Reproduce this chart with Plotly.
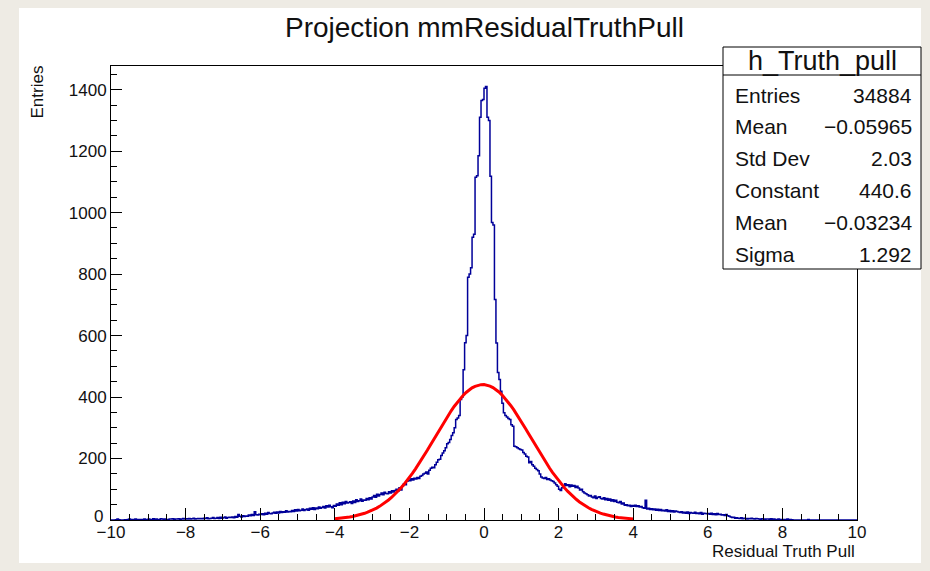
import math
import plotly.graph_objects as go

# ---------------- data ----------------
x_min, x_max, n_bins = -10.0, 10.0, 500

counts = [
    # -10.0 .. -6.0
    0, 0, 0, 1, 3, 1, 0, 0, 0, 1,
    1, 2, 3, 1, 2, 1, 3, 2, 1, 2,
    2, 1, 3, 2, 2, 3, 1, 2, 4, 2,
    3, 2, 2, 4, 3, 2, 3, 1, 2, 3,
    3, 4, 2, 3, 3, 4, 2, 3, 5, 3,
    4, 3, 5, 3, 4, 6, 3, 4, 5, 4,
    5, 4, 6, 5, 7, 4, 5, 6, 8, 5,
    6, 8, 5, 9, 6, 7, 10, 6, 8, 9,
    8, 10, 7, 11, 9, 18, 12, 10, 14, 11,
    13, 12, 16, 14, 18, 15, 27, 17, 16, 19,
    # -6.0 .. -2.0
    18, 20, 17, 22, 19, 24, 21, 20, 23, 25,
    22, 26, 23, 28, 24, 27, 25, 30, 26, 28,
    27, 31, 28, 33, 29, 34, 30, 32, 36, 31,
    33, 36, 32, 38, 35, 40, 34, 39, 37, 42,
    38, 41, 44, 39, 46, 42, 48, 43, 40, 47,
    45, 52, 48, 56, 50, 58, 53, 60, 55, 57,
    59, 54, 62, 57, 66, 60, 63, 68, 61, 65,
    64, 70, 66, 72, 68, 75, 80, 74, 84, 78,
    83, 88, 82, 90, 86, 85, 92, 88, 95, 91,
    96, 100, 94, 105, 98, 110, 118, 115, 126, 130,
    # -2.0 .. 2.0
    128, 134, 130, 136, 133, 138, 135, 142, 145, 150,
    152, 156, 150, 162, 168, 172, 170, 180, 188, 196,
    198, 210, 218, 225, 235, 248, 252, 262, 275, 284,
    300, 327, 332, 340, 392, 400, 489, 577, 600, 790,
    800, 821, 920, 930, 1115, 1120, 1185, 1310, 1365, 1368,
    1405, 1410, 1310, 1300, 1118, 968, 960, 717, 576, 480,
    457, 419, 380, 349, 340, 335, 330, 327, 310, 305,
    240, 238, 235, 232, 229, 228, 220, 215, 207, 205,
    186, 190, 180, 175, 168, 164, 160, 150, 140, 137,
    135, 138, 132, 134, 130, 128, 125, 120, 115, 110,
    # 2.0 .. 6.0
    100, 96, 105, 110, 118, 112, 115, 108, 114, 110,
    112, 106, 110, 104, 98, 100, 92, 88, 85, 82,
    78, 80, 75, 72, 78, 70, 74, 76, 70, 68,
    72, 66, 70, 64, 68, 62, 66, 60, 64, 58,
    56, 60, 52, 55, 48, 50, 46, 48, 44, 47,
    45, 48, 44, 46, 42, 44, 40, 38, 64, 36,
    38, 34, 37, 33, 36, 32, 35, 31, 34, 30,
    32, 29, 33, 28, 31, 27, 30, 26, 29, 28,
    26, 24, 27, 23, 25, 22, 26, 21, 24, 23,
    22, 25, 21, 23, 20, 24, 19, 22, 21, 20,
    # 6.0 .. 10.0
    21, 19, 22, 18, 20, 17, 21, 18, 19, 16,
    17, 15, 18, 14, 12, 10, 8, 9, 6, 7,
    6, 5, 7, 4, 6, 5, 3, 5, 4, 6,
    4, 3, 5, 4, 3, 2, 4, 3, 2, 3,
    3, 2, 4, 2, 3, 1, 2, 3, 2, 1,
    2, 1, 2, 3, 1, 2, 1, 0, 0, 0,
    0, 0, 0, 0, 0, 0, 0, 2, 0, 0,
    0, 0, 0, 0, 0, 0, 0, 0, 0, 0,
    0, 0, 0, 0, 0, 0, 0, 0, 0, 0,
    0, 0, 0, 0, 0, 0, 0, 0, 0, 0,
]

y_max = 1477
x_ticks = [-10, -8, -6, -4, -2, 0, 2, 4, 6, 8, 10]
y_ticks = [0, 200, 400, 600, 800, 1000, 1200, 1400]
y_tick_text = ["", "200", "400", "600", "800", "1000", "1200", "1400"]
y_zero_label = "0"

title_text = "Projection mmResidualTruthPull"
x_title = "Residual Truth Pull"
y_title = "Entries"
stats_name = "h_Truth_pull"
stat_labels = ["Entries", "Mean", "Std Dev", "Constant", "Mean", "Sigma"]
stat_values = ["34884", "\u22120.05965", "2.03", "440.6", "\u22120.03234", "1.292"]

fit_constant = 440.6
fit_mean = -0.03234
fit_sigma = 1.292
fit_range = (-4.0, 4.0)
fit_npx = 100

# ---------------- geometry ----------------
W, H = 930, 571
L, R, T, B = 111, 857, 66, 520  # plot frame in pixels
PW, PH = R - L, B - T


def px(x):
    return (x - L) / PW


def py(y):
    return (B - y) / PH


FONT = "Liberation Sans, Arial, Helvetica, sans-serif"
TXT = "#111111"

# histogram outline
bw = (x_max - x_min) / n_bins
edges = [x_min + i * bw for i in range(n_bins + 1)]
hx = edges
hy = counts + [counts[-1]]

# gaussian fit curve evaluated from the fitted parameters
fx = [fit_range[0] + (fit_range[1] - fit_range[0]) * i / fit_npx for i in range(fit_npx + 1)]
fy = [fit_constant * math.exp(-0.5 * ((v - fit_mean) / fit_sigma) ** 2) for v in fx]

fig = go.Figure()
fig.add_trace(go.Scatter(x=hx, y=hy, mode="lines", line=dict(color="#000099", width=1.5, shape="hv"),
                         hoverinfo="skip", showlegend=False))
fig.add_trace(go.Scatter(x=fx, y=fy, mode="lines", line=dict(color="#ff0000", width=3),
                         hoverinfo="skip", showlegend=False))

fig.update_layout(
    width=W, height=H,
    margin=dict(l=L, r=W - R, t=T, b=H - B, pad=0),
    paper_bgcolor="#eeebe4",
    plot_bgcolor="white",
    font=dict(family=FONT, color="black"),
    showlegend=False,
)

fig.update_xaxes(
    range=[x_min, x_max], tickvals=x_ticks, ticks="inside", ticklen=12, tickwidth=1, tickcolor="black",
    minor=dict(dtick=0.5, tick0=0, ticks="inside", ticklen=6, tickcolor="black", tickwidth=1),
    showline=True, linecolor="black", linewidth=1, mirror=True, showgrid=False, zeroline=False,
    tickfont=dict(size=17, family=FONT, color=TXT), ticklabelstandoff=-3,
)
fig.update_yaxes(
    range=[0, y_max], tickvals=y_ticks, ticktext=y_tick_text, ticks="inside", ticklen=11, tickwidth=1,
    tickcolor="black",
    minor=dict(dtick=50, tick0=0, ticks="inside", ticklen=6, tickcolor="black", tickwidth=1),
    showline=True, linecolor="black", linewidth=1, mirror=True, showgrid=False, zeroline=False,
    tickfont=dict(size=17, family=FONT, color=TXT),
)

shapes = []
# white canvas
shapes.append(dict(type="rect", xref="paper", yref="paper", layer="below",
                   x0=px(19), x1=px(921), y0=py(563), y1=py(8),
                   fillcolor="white", line=dict(width=0)))
# stats box
shapes.append(dict(type="rect", xref="paper", yref="paper", layer="above",
                   x0=px(723), x1=px(921), y0=py(269), y1=py(47),
                   fillcolor="white", line=dict(color="black", width=1)))
shapes.append(dict(type="line", xref="paper", yref="paper", layer="above",
                   x0=px(723), x1=px(921), y0=py(75), y1=py(75),
                   line=dict(color="black", width=1)))
fig.update_layout(shapes=shapes)

ann = []
ann.append(dict(text=title_text, x=px(484), y=py(27), xref="paper", yref="paper",
                xanchor="center", yanchor="middle", showarrow=False,
                font=dict(size=28, family=FONT, color=TXT)))
ann.append(dict(text=x_title, x=px(857), y=py(551), xref="paper", yref="paper",
                xanchor="right", yanchor="middle", showarrow=False,
                font=dict(size=17, family=FONT, color=TXT)))
ann.append(dict(text=y_title, x=px(37), y=py(64), xref="paper", yref="paper",
                xanchor="center", yanchor="top", textangle=-90, showarrow=False,
                font=dict(size=17, family=FONT, color=TXT)))
ann.append(dict(text=y_zero_label, x=px(105), y=py(516), xref="paper", yref="paper",
                xanchor="right", yanchor="middle", showarrow=False,
                font=dict(size=17, family=FONT, color=TXT)))
ann.append(dict(text=stats_name, x=px(822), y=py(61), xref="paper", yref="paper",
                xanchor="center", yanchor="middle", showarrow=False,
                font=dict(size=27, family=FONT, color=TXT)))
for i, (lab, val) in enumerate(zip(stat_labels, stat_values)):
    yy = 95 + 31.8 * i
    ann.append(dict(text=lab, x=px(733), y=py(yy), xref="paper", yref="paper",
                    xanchor="left", yanchor="middle", showarrow=False,
                    font=dict(size=21, family=FONT, color=TXT)))
    ann.append(dict(text=val, x=px(914), y=py(yy), xref="paper", yref="paper",
                    xanchor="right", yanchor="middle", showarrow=False,
                    font=dict(size=21, family=FONT, color=TXT)))
fig.update_layout(annotations=ann)

fig.write_html(
    "out.html",
    config={"displayModeBar": False},
    post_script="document.body.style.margin='0';document.body.style.background='#eeebe4';",
)
